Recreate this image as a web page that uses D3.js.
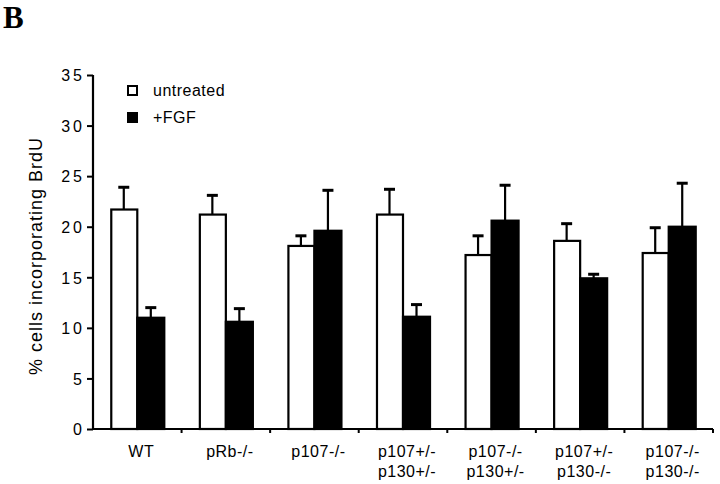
<!DOCTYPE html>
<html>
<head>
<meta charset="utf-8">
<script src="https://cdn.jsdelivr.net/npm/d3@7"></script>
<style>
  html, body { margin: 0; padding: 0; background: #fff; }
  svg { display: block; }
  text { font-family: "Liberation Sans", Arial, Helvetica, sans-serif; fill: #000; }
</style>
</head>
<body>
<svg id="chart" width="720" height="484"></svg>
<script>
// ---- data ----
const categories = [
  ["WT"], ["pRb-/-"], ["p107-/-"],
  ["p107+/-", "p130+/-"], ["p107-/-", "p130+/-"],
  ["p107+/-", "p130-/-"], ["p107-/-", "p130-/-"]
];
const seriesNames = ["untreated", "+FGF"];
const untreated    = [21.7, 21.2, 18.1, 21.2, 17.2, 18.6, 17.4];
const untreatedErr = [2.2, 1.9, 1.0, 2.5, 1.9, 1.7, 2.5];
const fgf          = [11.0, 10.6, 19.6, 11.1, 20.6, 14.9, 20.0];
const fgfErr       = [1.0, 1.3, 4.0, 1.2, 3.5, 0.4, 4.3];
const yTicks       = [0, 5, 10, 15, 20, 25, 30, 35];
const yLabel = "% cells incorporating BrdU";
const panelLabel = "B";

// ---- layout ----
const svg = d3.select("#chart");
const x0 = 93, x1 = 713, yBase = 429, yTop = 75;

const keys = categories.map(c => c.join(" "));
const x = d3.scaleBand().domain(keys).range([x0, x1]).padding(0);
const xs = d3.scaleBand().domain(seriesNames)
  .range([x.bandwidth() * 0.195, x.bandwidth() * 0.805]).padding(0);
const y = d3.scaleLinear().domain([0, 35]).range([yBase, yTop]);

const rows = [];
keys.forEach((k, i) => {
  rows.push({ k, s: "untreated", v: untreated[i], e: untreatedErr[i] });
  rows.push({ k, s: "+FGF", v: fgf[i], e: fgfErr[i] });
});

// panel label
svg.append("text").attr("x", 3).attr("y", 28)
  .style("font-family", "'Liberation Serif', 'Times New Roman', serif")
  .style("font-weight", "bold").style("font-size", "31px")
  .text(panelLabel);

// error bars
const eb = svg.append("g");
rows.forEach(d => {
  const cx = x(d.k) + xs(d.s) + xs.bandwidth() / 2;
  eb.append("line").attr("x1", cx).attr("x2", cx)
    .attr("y1", y(d.v)).attr("y2", y(d.v + d.e))
    .attr("stroke", "#000").attr("stroke-width", 2.2);
  eb.append("line").attr("x1", cx - 5.5).attr("x2", cx + 5.5)
    .attr("y1", y(d.v + d.e)).attr("y2", y(d.v + d.e))
    .attr("stroke", "#000").attr("stroke-width", 3);
});

// bars
svg.append("g").selectAll("rect").data(rows).join("rect")
  .attr("x", d => x(d.k) + xs(d.s) + (d.s === "untreated" ? 1 : 0))
  .attr("width", d => xs.bandwidth() - (d.s === "untreated" ? 1 : 0))
  .attr("y", d => y(d.v))
  .attr("height", d => y(0) - y(d.v))
  .attr("fill", d => d.s === "untreated" ? "#fff" : "#000")
  .attr("stroke", "#000").attr("stroke-width", 2.2);

// y axis
const yAxis = svg.append("g").attr("transform", `translate(${x0},0)`)
  .call(d3.axisLeft(y).tickValues(yTicks).tickSize(6).tickPadding(2));
yAxis.select(".domain").attr("stroke-width", 2.2).attr("d", `M0,${yTop}V${yBase}`);
yAxis.selectAll(".tick line").attr("stroke-width", 2);
yAxis.selectAll(".tick text")
  .style("font-family", "'Liberation Sans', Arial, sans-serif")
  .style("font-size", "16px").style("letter-spacing", "3px")
  .attr("dy", "0.36em");

// x axis
const xAxis = svg.append("g").attr("transform", `translate(0,${yBase})`);
xAxis.append("line").attr("x1", x0).attr("x2", x1)
  .attr("stroke", "#000").attr("stroke-width", 2.2);
xAxis.selectAll("line.tk").data(keys.slice(1).concat(["__end"])).join("line")
  .attr("class", "tk")
  .attr("x1", d => d === "__end" ? x1 : x(d)).attr("x2", d => d === "__end" ? x1 : x(d))
  .attr("y1", 0).attr("y2", 4)
  .attr("stroke", "#000").attr("stroke-width", 2);

// x labels
categories.forEach((lines, i) => {
  const cx = x(keys[i]) + x.bandwidth() / 2 + 4;
  const t = svg.append("text")
    .attr("x", cx)
    .attr("y", 457)
    .attr("text-anchor", "middle")
    .style("font-size", "16px").style("letter-spacing", "0.5px");
  lines.forEach((ln, j) => {
    t.append("tspan").attr("x", cx)
      .attr("dy", j === 0 ? 0 : 20).text(ln);
  });
});

// y label
svg.append("text")
  .attr("transform", `translate(42,256) rotate(-90)`)
  .attr("text-anchor", "middle")
  .style("font-size", "18px").style("letter-spacing", "1px")
  .text(yLabel);

// legend
const lg = svg.append("g");
seriesNames.forEach((s, i) => {
  const yy = 86 + i * 27;
  lg.append("rect").attr("x", 128).attr("y", yy).attr("width", 9).attr("height", 9)
    .attr("fill", i === 0 ? "#fff" : "#000")
    .attr("stroke", "#000").attr("stroke-width", 2);
  lg.append("text").attr("x", 153).attr("y", yy + 10)
    .style("font-size", "16px").style("letter-spacing", "0.5px")
    .text(s);
});
</script>
</body>
</html>
